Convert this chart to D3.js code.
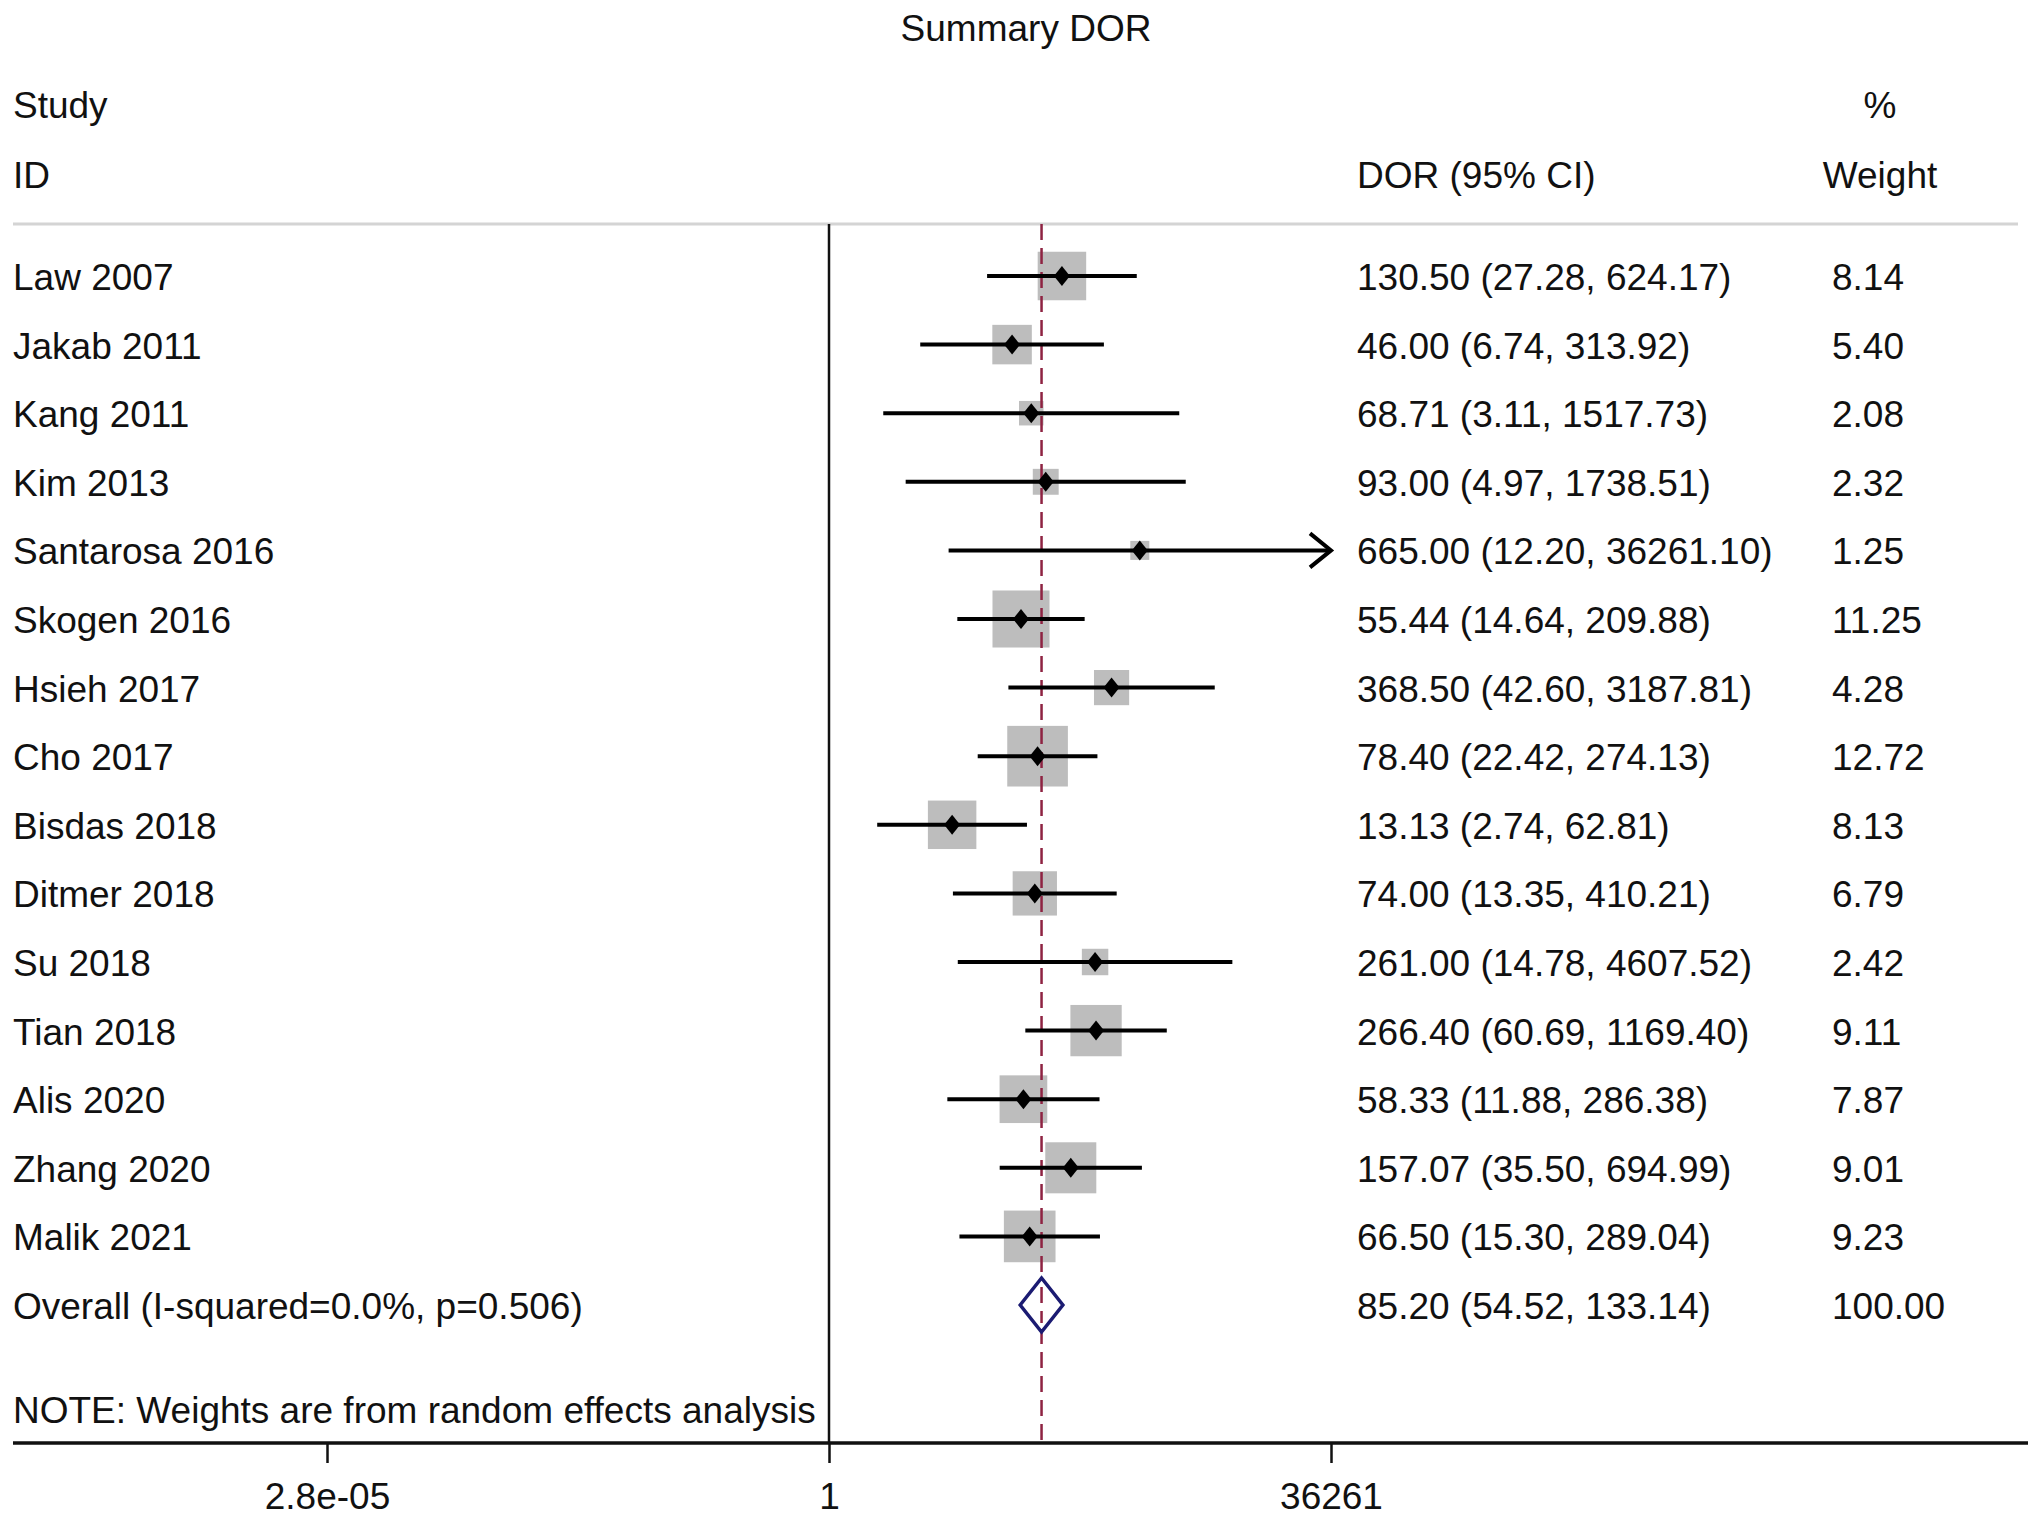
<!DOCTYPE html>
<html>
<head>
<meta charset="utf-8">
<script src="https://cdn.jsdelivr.net/npm/d3@7"></script>
<style>
  body { margin: 0; background: #fff; }
  text { font-family: "Liberation Sans", Arial, Helvetica, sans-serif; fill: #111; }
</style>
</head>
<body>
<div id="chart"></div>
<script>
// study rows
var studies = ["Law 2007", "Jakab 2011", "Kang 2011", "Kim 2013", "Santarosa 2016", "Skogen 2016",
               "Hsieh 2017", "Cho 2017", "Bisdas 2018", "Ditmer 2018", "Su 2018", "Tian 2018",
               "Alis 2020", "Zhang 2020", "Malik 2021"];
var dor    = [130.50, 46.00, 68.71, 93.00, 665.00, 55.44, 368.50, 78.40, 13.13, 74.00, 261.00, 266.40, 58.33, 157.07, 66.50];
var lower  = [27.28, 6.74, 3.11, 4.97, 12.20, 14.64, 42.60, 22.42, 2.74, 13.35, 14.78, 60.69, 11.88, 35.50, 15.30];
var upper  = [624.17, 313.92, 1517.73, 1738.51, 36261.10, 209.88, 3187.81, 274.13, 62.81, 410.21, 4607.52, 1169.40, 286.38, 694.99, 289.04];
var weight = [8.14, 5.40, 2.08, 2.32, 1.25, 11.25, 4.28, 12.72, 8.13, 6.79, 2.42, 9.11, 7.87, 9.01, 9.23];

// pooled estimate
var overallLabel = "Overall (I-squared=0.0%, p=0.506)";
var overallDor = 85.20, overallLow = 54.52, overallHigh = 133.14, overallWeight = 100.00;

// x axis
var tickValues = [1 / 36261, 1, 36261];
var tickLabels = ["2.8e-05", "1", "36261"];

var W = 2032, H = 1523;
var fs = 37;

var svg = d3.select("#chart")
            .append("svg")
            .attr("width", W)
            .attr("height", H);

var x = d3.scaleLog()
          .domain([1 / 36261, 36261])
          .range([327, 1331]);

var rowNames = studies.concat([overallLabel]);
var y = d3.scalePoint()
          .domain(rowNames)
          .range([276, 1305]);

var boxSize = d3.scaleSqrt()
                .domain([0, 100])
                .range([0, 170]);

var xMax = x.domain()[1];

//Title and headers
svg.append("text").attr("x", 1026).attr("y", 41).attr("text-anchor", "middle")
   .style("font-size", fs + "px").text("Summary DOR");
svg.append("text").attr("x", 13).attr("y", 118).style("font-size", fs + "px").text("Study");
svg.append("text").attr("x", 13).attr("y", 188).style("font-size", fs + "px").text("ID");
svg.append("text").attr("x", 1357).attr("y", 188).style("font-size", fs + "px").text("DOR (95% CI)");
svg.append("text").attr("x", 1880).attr("y", 118).attr("text-anchor", "middle")
   .style("font-size", fs + "px").text("%");
svg.append("text").attr("x", 1880).attr("y", 188).attr("text-anchor", "middle")
   .style("font-size", fs + "px").text("Weight");

//Header rule
svg.append("line")
   .attr("x1", 13).attr("x2", 2018)
   .attr("y1", 224).attr("y2", 224)
   .attr("stroke", "#d4d4d4").attr("stroke-width", 3);

//No-effect line at 1
svg.append("line")
   .attr("x1", x(1)).attr("x2", x(1))
   .attr("y1", 224).attr("y2", 1443)
   .attr("stroke", "#111").attr("stroke-width", 2.5);

//Weight boxes
svg.selectAll(".box")
   .data(studies)
   .enter().append("rect")
   .attr("class", "box")
   .attr("x", function(d, i) { return x(dor[i]) - boxSize(weight[i]) / 2; })
   .attr("y", function(d, i) { return y(d) - boxSize(weight[i]) / 2; })
   .attr("width", function(d, i) { return boxSize(weight[i]); })
   .attr("height", function(d, i) { return boxSize(weight[i]); })
   .attr("fill", "#bdbdbd");

//Overall dashed line (over the boxes)
svg.append("line")
   .attr("x1", x(overallDor)).attr("x2", x(overallDor))
   .attr("y1", 224).attr("y2", 1443)
   .attr("stroke", "#8e2342").attr("stroke-width", 2.5)
   .attr("stroke-dasharray", "16,8");

//CI lines
svg.selectAll(".ci")
   .data(studies)
   .enter().append("line")
   .attr("class", "ci")
   .attr("x1", function(d, i) { return x(lower[i]); })
   .attr("x2", function(d, i) { return x(Math.min(upper[i], xMax)); })
   .attr("y1", function(d) { return y(d); })
   .attr("y2", function(d) { return y(d); })
   .attr("stroke", "#000").attr("stroke-width", 4);

//Arrow where CI runs past the axis
studies.forEach(function(d, i) {
  if (upper[i] > xMax) {
    var tx = x(xMax), ty = y(d);
    svg.append("path")
       .attr("d", "M" + (tx - 21) + "," + (ty - 17) + "L" + tx + "," + ty + "L" + (tx - 21) + "," + (ty + 17))
       .attr("fill", "none").attr("stroke", "#000").attr("stroke-width", 4);
  }
});

//Point estimates
svg.selectAll(".pt")
   .data(studies)
   .enter().append("path")
   .attr("class", "pt")
   .attr("d", function(d, i) {
     var cx = x(dor[i]), cy = y(d);
     return "M" + (cx - 8) + "," + cy + "L" + cx + "," + (cy - 10) + "L" + (cx + 8) + "," + cy + "L" + cx + "," + (cy + 10) + "Z";
   })
   .attr("fill", "#000");

//Overall diamond
var oy = y(overallLabel);
svg.append("path")
   .attr("d", "M" + x(overallLow) + "," + oy + "L" + x(overallDor) + "," + (oy - 27) +
              "L" + x(overallHigh) + "," + oy + "L" + x(overallDor) + "," + (oy + 27) + "Z")
   .attr("fill", "#fff").attr("stroke", "#1b1b72").attr("stroke-width", 3.5);
svg.append("line")
   .attr("x1", x(overallDor)).attr("x2", x(overallDor))
   .attr("y1", oy - 18).attr("y2", oy + 18)
   .attr("stroke", "#8e2342").attr("stroke-width", 2.5)
   .attr("stroke-dasharray", "16,8");

//Row text
var fmt = d3.format(".2f");
rowNames.forEach(function(d, i) {
  var isOverall = i === studies.length;
  var e = isOverall ? overallDor : dor[i];
  var lo = isOverall ? overallLow : lower[i];
  var hi = isOverall ? overallHigh : upper[i];
  var w = isOverall ? overallWeight : weight[i];
  var ty = y(d) + 14;
  svg.append("text").attr("x", 13).attr("y", ty).style("font-size", fs + "px").text(d);
  svg.append("text").attr("x", 1357).attr("y", ty).style("font-size", fs + "px")
     .text(fmt(e) + " (" + fmt(lo) + ", " + fmt(hi) + ")");
  svg.append("text").attr("x", 1832).attr("y", ty).style("font-size", fs + "px").text(fmt(w));
});

//Note
svg.append("text").attr("x", 13).attr("y", 1423).style("font-size", fs + "px")
   .text("NOTE: Weights are from random effects analysis");

//X axis
svg.append("line")
   .attr("x1", 13).attr("x2", 2028)
   .attr("y1", 1443).attr("y2", 1443)
   .attr("stroke", "#111").attr("stroke-width", 3.5);

var axis = svg.append("g")
              .attr("transform", "translate(0,1443)")
              .call(d3.axisBottom(x)
                      .tickValues(tickValues)
                      .tickFormat(function(d, i) { return tickLabels[i]; })
                      .tickSize(20)
                      .tickPadding(20));
axis.select(".domain").remove();
axis.selectAll(".tick line").attr("stroke", "#111").attr("stroke-width", 2.5);
axis.selectAll(".tick text")
    .style("font-size", fs + "px")
    .style("font-family", "'Liberation Sans', Arial, Helvetica, sans-serif")
    .attr("fill", "#111");
</script>
</body>
</html>
